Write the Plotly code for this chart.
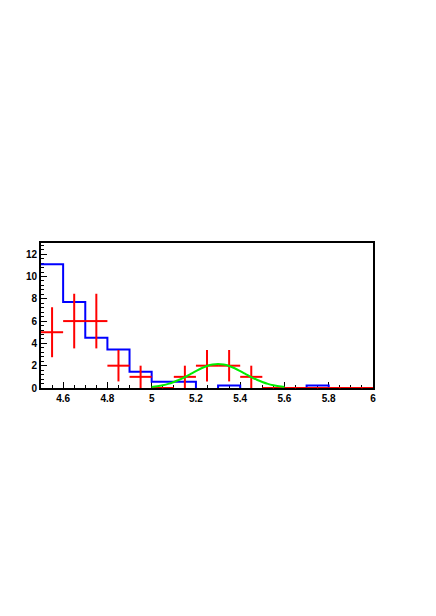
import plotly.graph_objects as go

# ---------- Data ----------

# blue histogram: left bin edges (width 0.1) and contents
bin_left = [4.5, 4.6, 4.7, 4.8, 4.9, 5.0, 5.1, 5.2, 5.3, 5.4, 5.5, 5.6, 5.7, 5.8, 5.9]
hist_vals = [11.1, 7.7, 4.5, 3.45, 1.45, 0.55, 0.55, 0, 0.22, 0, 0, 0, 0.22, 0, 0]

# red data points with Poisson errors
pt_x = [4.55, 4.65, 4.75, 4.85, 4.95, 5.05, 5.15, 5.25, 5.35, 5.45, 5.55, 5.65, 5.75, 5.85, 5.95]
pt_y = [5, 6, 6, 2, 1, 0, 1, 2, 2, 1, 0, 0, 0, 0, 0]
pt_err = [2.24, 2.45, 2.45, 1.41, 1.0, 0, 1.0, 1.41, 1.41, 1.0, 0, 0, 0, 0, 0]

# green fit curve
fit_x = [5.0, 5.025, 5.05, 5.075, 5.1, 5.125, 5.15, 5.175, 5.2, 5.225, 5.25, 5.275, 5.3,
         5.325, 5.35, 5.375, 5.4, 5.425, 5.45, 5.475, 5.5, 5.525, 5.55, 5.575, 5.6]
fit_y = [0.09, 0.16, 0.25, 0.37, 0.54, 0.74, 0.98, 1.25, 1.52, 1.77, 1.97, 2.1, 2.15,
         2.1, 1.97, 1.77, 1.52, 1.25, 0.98, 0.74, 0.54, 0.37, 0.25, 0.16, 0.09]

x_ticks = [4.6, 4.8, 5.0, 5.2, 5.4, 5.6, 5.8, 6.0]
x_ticklabels = ["4.6", "4.8", "5", "5.2", "5.4", "5.6", "5.8", "6"]
y_ticks = [0, 2, 4, 6, 8, 10, 12]

BIN_W = 0.1


def _step_path(lefts, vals):
    """Step outline; empty bins leave a gap so the baseline stays black."""
    xs, ys = [], []
    for l, v in zip(lefts, vals):
        r = l + BIN_W
        if v > 0:
            xs += [l, r]
            ys += [v, v]
        else:
            xs += [l, None, r]
            ys += [0, None, 0]
    return xs, ys


hx, hy = _step_path(bin_left, hist_vals)

fig = go.Figure()

fig.add_trace(go.Scatter(
    x=hx, y=hy, mode="lines",
    line=dict(color="#0000ff", width=2),
    connectgaps=False, hoverinfo="skip",
))

fig.add_trace(go.Scatter(
    x=pt_x, y=pt_y, mode="markers",
    marker=dict(color="#ff0000", size=1),
    error_x=dict(type="constant", value=BIN_W / 2, width=0, thickness=2, color="#ff0000"),
    error_y=dict(type="data", array=pt_err, width=0, thickness=2, color="#ff0000"),
    cliponaxis=False,
))

fig.add_trace(go.Scatter(
    x=fit_x, y=fit_y, mode="lines",
    line=dict(color="#00ee00", width=2, shape="spline"),
))

tick_font = dict(family="Liberation Sans, Arial, sans-serif", size=10, color="black", weight="bold")

fig.update_xaxes(
    range=[4.5, 6.0],
    tickvals=x_ticks, ticktext=x_ticklabels,
    ticks="inside", ticklen=6, tickwidth=1, tickcolor="black",
    minor=dict(dtick=0.05, tick0=4.5, ticks="inside", ticklen=3, tickcolor="black"),
    showline=True, linewidth=2, linecolor="black", mirror=True,
    showgrid=False, zeroline=False, layer="below traces",
    tickfont=tick_font,
)
fig.update_yaxes(
    range=[0, 13],
    tickvals=y_ticks,
    ticks="inside", ticklen=6, tickwidth=1, tickcolor="black",
    minor=dict(dtick=0.4, tick0=0, ticks="inside", ticklen=3, tickcolor="black"),
    showline=True, linewidth=2, linecolor="black", mirror=True,
    showgrid=False, zeroline=False, layer="below traces",
    tickfont=tick_font,
)

fig.update_layout(
    width=436, height=616,
    margin=dict(l=33, r=71, t=235, b=236),
    paper_bgcolor="white", plot_bgcolor="white",
    showlegend=False,
)

fig.write_html("out.html")
